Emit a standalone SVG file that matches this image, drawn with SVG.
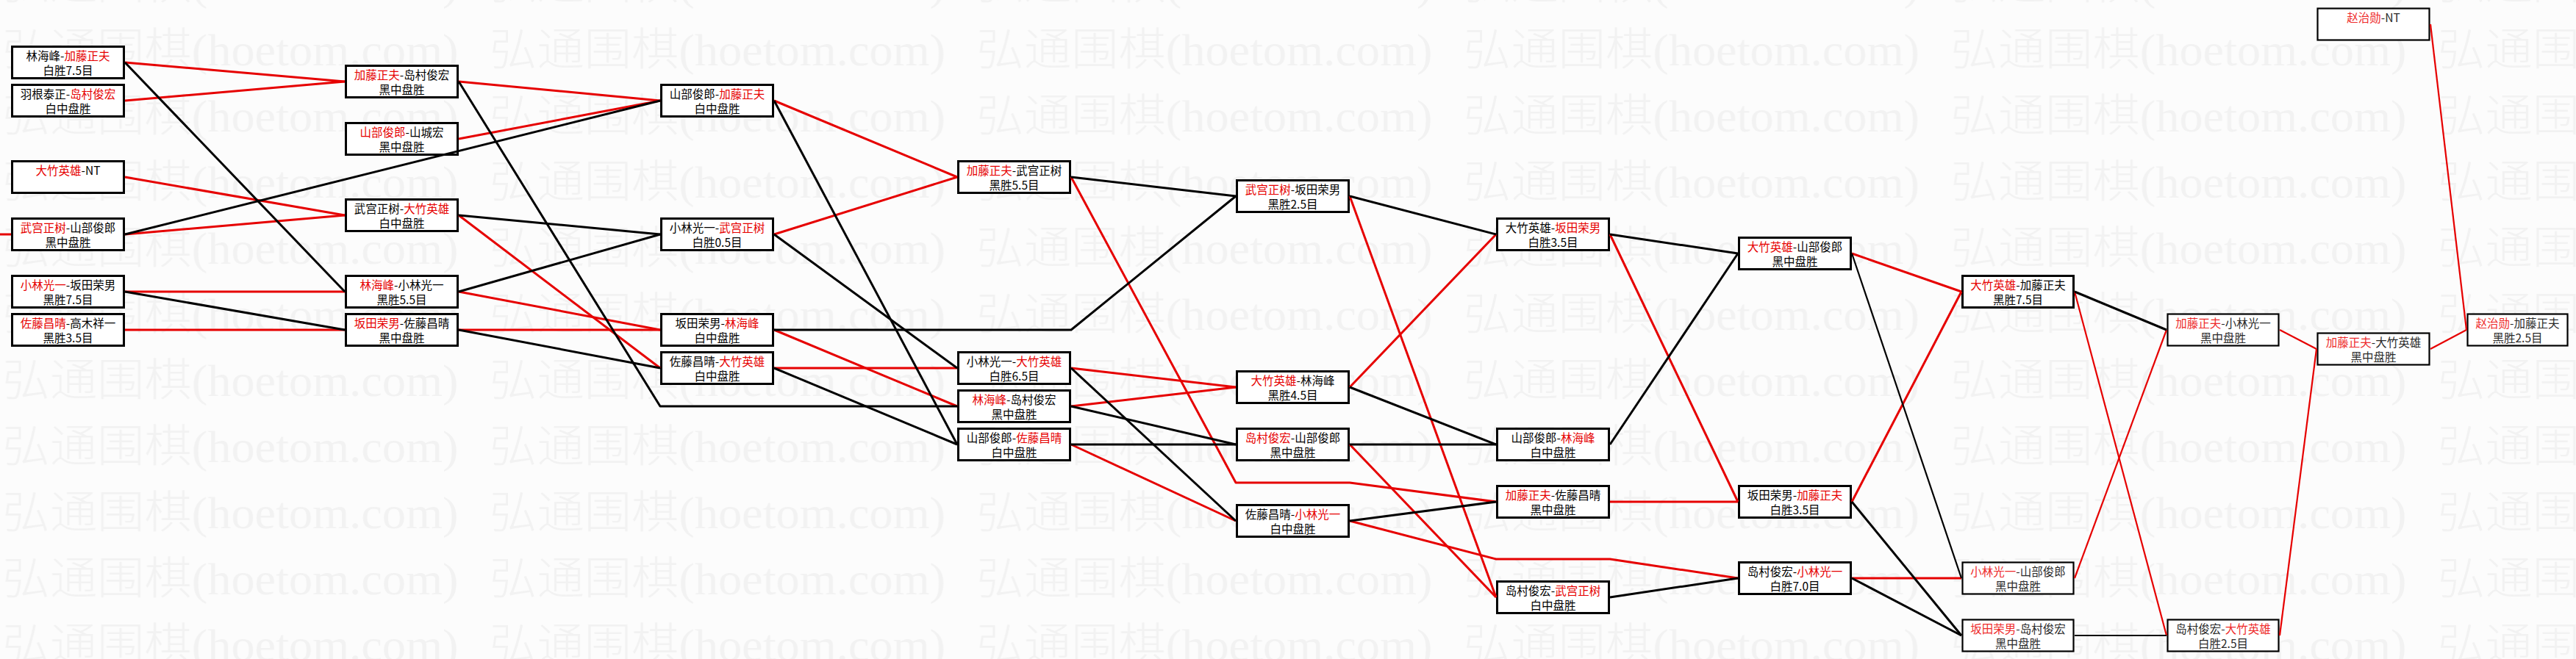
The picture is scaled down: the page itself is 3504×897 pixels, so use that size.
<svg xmlns="http://www.w3.org/2000/svg" width="3504" height="897" viewBox="0 0 3504 897">
<defs>
<style>
.bg{fill:#fcfcfc}
.wm{font-family:"Liberation Serif","Noto Sans CJK SC",serif;font-size:61px;font-weight:300;fill:#f2f2f2}
.box{fill:#fff;stroke:#000;stroke-width:3}
.light .box{stroke-width:2.2}
.t{font-family:"Noto Sans CJK SC","Noto Sans CJK JP",sans-serif;font-size:15.5px;fill:#000;text-anchor:middle}
.r{fill:#e60000}
.light .t{fill:#2a2a2a}
.light .r{fill:#ee2a2a}
.cr{fill:none;stroke:#e60000;stroke-width:3;stroke-linejoin:round}
.cb{fill:none;stroke:#000;stroke-width:3;stroke-linejoin:round}
.w2{stroke-width:2.2}
</style>
<pattern id="wmp" patternUnits="userSpaceOnUse" x="3.5" y="30" width="662.5" height="90">
<text class="wm" x="0" y="59" textLength="620" lengthAdjust="spacingAndGlyphs">弘通围棋(hoetom.com)</text>
</pattern>
</defs>
<rect class="bg" width="3504" height="897"/>
<rect id="watermark" width="3504" height="897" fill="url(#wmp)"/>

<g id="nodes">
<g id="n1_1"><rect class="box" x="16.5" y="63.5" width="152" height="43"/><text class="t" x="92.5" y="82">林海峰-<tspan class="r">加藤正夫</tspan></text><text class="t" x="92.5" y="102">白胜7.5目</text></g>
<g id="n1_2"><rect class="box" x="16.5" y="115.5" width="152" height="43"/><text class="t" x="92.5" y="134">羽根泰正-<tspan class="r">岛村俊宏</tspan></text><text class="t" x="92.5" y="154">白中盘胜</text></g>
<g id="n1_3"><rect class="box" x="16.5" y="219.5" width="152" height="43"/><text class="t" x="92.5" y="238"><tspan class="r">大竹英雄</tspan>-NT</text></g>
<g id="n1_4"><rect class="box" x="16.5" y="297.5" width="152" height="43"/><text class="t" x="92.5" y="316"><tspan class="r">武宫正树</tspan>-山部俊郎</text><text class="t" x="92.5" y="336">黑中盘胜</text></g>
<g id="n1_5"><rect class="box" x="16.5" y="375.5" width="152" height="43"/><text class="t" x="92.5" y="394"><tspan class="r">小林光一</tspan>-坂田荣男</text><text class="t" x="92.5" y="414">黑胜7.5目</text></g>
<g id="n1_6"><rect class="box" x="16.5" y="427.5" width="152" height="43"/><text class="t" x="92.5" y="446"><tspan class="r">佐藤昌晴</tspan>-高木祥一</text><text class="t" x="92.5" y="466">黑胜3.5目</text></g>

<g id="n2_1"><rect class="box" x="470.5" y="89.5" width="152" height="43"/><text class="t" x="546.5" y="108"><tspan class="r">加藤正夫</tspan>-岛村俊宏</text><text class="t" x="546.5" y="128">黑中盘胜</text></g>
<g id="n2_2"><rect class="box" x="470.5" y="167.5" width="152" height="43"/><text class="t" x="546.5" y="186"><tspan class="r">山部俊郎</tspan>-山城宏</text><text class="t" x="546.5" y="206">黑中盘胜</text></g>
<g id="n2_3"><rect class="box" x="470.5" y="271.5" width="152" height="43"/><text class="t" x="546.5" y="290">武宫正树-<tspan class="r">大竹英雄</tspan></text><text class="t" x="546.5" y="310">白中盘胜</text></g>
<g id="n2_4"><rect class="box" x="470.5" y="375.5" width="152" height="43"/><text class="t" x="546.5" y="394"><tspan class="r">林海峰</tspan>-小林光一</text><text class="t" x="546.5" y="414">黑胜5.5目</text></g>
<g id="n2_5"><rect class="box" x="470.5" y="427.5" width="152" height="43"/><text class="t" x="546.5" y="446"><tspan class="r">坂田荣男</tspan>-佐藤昌晴</text><text class="t" x="546.5" y="466">黑中盘胜</text></g>

<g id="n3_1"><rect class="box" x="899.5" y="115.5" width="152" height="43"/><text class="t" x="975.5" y="134">山部俊郎-<tspan class="r">加藤正夫</tspan></text><text class="t" x="975.5" y="154">白中盘胜</text></g>
<g id="n3_2"><rect class="box" x="899.5" y="297.5" width="152" height="43"/><text class="t" x="975.5" y="316">小林光一-<tspan class="r">武宫正树</tspan></text><text class="t" x="975.5" y="336">白胜0.5目</text></g>
<g id="n3_3"><rect class="box" x="899.5" y="427.5" width="152" height="43"/><text class="t" x="975.5" y="446">坂田荣男-<tspan class="r">林海峰</tspan></text><text class="t" x="975.5" y="466">白中盘胜</text></g>
<g id="n3_4"><rect class="box" x="899.5" y="479.5" width="152" height="43"/><text class="t" x="975.5" y="498">佐藤昌晴-<tspan class="r">大竹英雄</tspan></text><text class="t" x="975.5" y="518">白中盘胜</text></g>

<g id="n4_1"><rect class="box" x="1303.5" y="219.5" width="152" height="43"/><text class="t" x="1379.5" y="238"><tspan class="r">加藤正夫</tspan>-武宫正树</text><text class="t" x="1379.5" y="258">黑胜5.5目</text></g>
<g id="n4_2"><rect class="box" x="1303.5" y="479.5" width="152" height="43"/><text class="t" x="1379.5" y="498">小林光一-<tspan class="r">大竹英雄</tspan></text><text class="t" x="1379.5" y="518">白胜6.5目</text></g>
<g id="n4_3"><rect class="box" x="1303.5" y="531.5" width="152" height="43"/><text class="t" x="1379.5" y="550"><tspan class="r">林海峰</tspan>-岛村俊宏</text><text class="t" x="1379.5" y="570">黑中盘胜</text></g>
<g id="n4_4"><rect class="box" x="1303.5" y="583.5" width="152" height="43"/><text class="t" x="1379.5" y="602">山部俊郎-<tspan class="r">佐藤昌晴</tspan></text><text class="t" x="1379.5" y="622">白中盘胜</text></g>

<g id="n5_1"><rect class="box" x="1682.5" y="245.5" width="152" height="43"/><text class="t" x="1758.5" y="264"><tspan class="r">武宫正树</tspan>-坂田荣男</text><text class="t" x="1758.5" y="284">黑胜2.5目</text></g>
<g id="n5_2"><rect class="box" x="1682.5" y="505.5" width="152" height="43"/><text class="t" x="1758.5" y="524"><tspan class="r">大竹英雄</tspan>-林海峰</text><text class="t" x="1758.5" y="544">黑胜4.5目</text></g>
<g id="n5_3"><rect class="box" x="1682.5" y="583.5" width="152" height="43"/><text class="t" x="1758.5" y="602"><tspan class="r">岛村俊宏</tspan>-山部俊郎</text><text class="t" x="1758.5" y="622">黑中盘胜</text></g>
<g id="n5_4"><rect class="box" x="1682.5" y="687.5" width="152" height="43"/><text class="t" x="1758.5" y="706">佐藤昌晴-<tspan class="r">小林光一</tspan></text><text class="t" x="1758.5" y="726">白中盘胜</text></g>

<g id="n6_1"><rect class="box" x="2036.5" y="297.5" width="152" height="43"/><text class="t" x="2112.5" y="316">大竹英雄-<tspan class="r">坂田荣男</tspan></text><text class="t" x="2112.5" y="336">白胜3.5目</text></g>
<g id="n6_2"><rect class="box" x="2036.5" y="583.5" width="152" height="43"/><text class="t" x="2112.5" y="602">山部俊郎-<tspan class="r">林海峰</tspan></text><text class="t" x="2112.5" y="622">白中盘胜</text></g>
<g id="n6_3"><rect class="box" x="2036.5" y="661.5" width="152" height="43"/><text class="t" x="2112.5" y="680"><tspan class="r">加藤正夫</tspan>-佐藤昌晴</text><text class="t" x="2112.5" y="700">黑中盘胜</text></g>
<g id="n6_4"><rect class="box" x="2036.5" y="791.5" width="152" height="43"/><text class="t" x="2112.5" y="810">岛村俊宏-<tspan class="r">武宫正树</tspan></text><text class="t" x="2112.5" y="830">白中盘胜</text></g>

<g id="n7_1"><rect class="box" x="2365.5" y="323.5" width="152" height="43"/><text class="t" x="2441.5" y="342"><tspan class="r">大竹英雄</tspan>-山部俊郎</text><text class="t" x="2441.5" y="362">黑中盘胜</text></g>
<g id="n7_2"><rect class="box" x="2365.5" y="661.5" width="152" height="43"/><text class="t" x="2441.5" y="680">坂田荣男-<tspan class="r">加藤正夫</tspan></text><text class="t" x="2441.5" y="700">白胜3.5目</text></g>
<g id="n7_3"><rect class="box" x="2365.5" y="765.5" width="152" height="43"/><text class="t" x="2441.5" y="784">岛村俊宏-<tspan class="r">小林光一</tspan></text><text class="t" x="2441.5" y="804">白胜7.0目</text></g>

<g id="n8_1"><rect class="box" x="2669.5" y="375.5" width="151" height="43"/><text class="t" x="2745" y="394"><tspan class="r">大竹英雄</tspan>-加藤正夫</text><text class="t" x="2745" y="414">黑胜7.5目</text></g>
<g id="n8_2" class="light"><rect class="box" x="2669.5" y="765.5" width="151" height="43"/><text class="t" x="2745" y="784"><tspan class="r">小林光一</tspan>-山部俊郎</text><text class="t" x="2745" y="804">黑中盘胜</text></g>
<g id="n8_3" class="light"><rect class="box" x="2669.5" y="843.5" width="151" height="43"/><text class="t" x="2745" y="862"><tspan class="r">坂田荣男</tspan>-岛村俊宏</text><text class="t" x="2745" y="882">黑中盘胜</text></g>

<g id="n9_1" class="light"><rect class="box" x="2948.5" y="427.5" width="151" height="43"/><text class="t" x="3024" y="446"><tspan class="r">加藤正夫</tspan>-小林光一</text><text class="t" x="3024" y="466">黑中盘胜</text></g>
<g id="n9_2" class="light"><rect class="box" x="2948.5" y="843.5" width="151" height="43"/><text class="t" x="3024" y="862">岛村俊宏-<tspan class="r">大竹英雄</tspan></text><text class="t" x="3024" y="882">白胜2.5目</text></g>

<g id="n10_1" class="light"><rect class="box" x="3152.5" y="11.5" width="152" height="43"/><text class="t" x="3228.5" y="30"><tspan class="r">赵治勋</tspan>-NT</text></g>
<g id="n10_2" class="light"><rect class="box" x="3152.5" y="453.5" width="152" height="43"/><text class="t" x="3228.5" y="472"><tspan class="r">加藤正夫</tspan>-大竹英雄</text><text class="t" x="3228.5" y="492">黑中盘胜</text></g>

<g id="n11_1" class="light"><rect class="box" x="3356.5" y="427.5" width="136" height="43"/><text class="t" x="3424.5" y="446"><tspan class="r">赵治勋</tspan>-加藤正夫</text><text class="t" x="3424.5" y="466">黑胜2.5目</text></g>
</g>

<g id="connectors">
<g id="red-links">
<line class="cr" x1="170" y1="85" x2="469" y2="111"/>
<line class="cr" x1="170" y1="137" x2="469" y2="111"/>
<line class="cr" x1="170" y1="241" x2="469" y2="293"/>
<line class="cr" x1="170" y1="319" x2="469" y2="293"/>
<line class="cr" x1="170" y1="397" x2="469" y2="397"/>
<line class="cr" x1="170" y1="449" x2="469" y2="449"/>
<line class="cr" x1="0" y1="319" x2="15" y2="319"/>
<line class="cr" x1="624" y1="111" x2="898" y2="137"/>
<line class="cr" x1="624" y1="189" x2="898" y2="137"/>
<line class="cr" x1="624" y1="293" x2="898" y2="501"/>
<line class="cr" x1="624" y1="397" x2="898" y2="449"/>
<line class="cr" x1="624" y1="449" x2="898" y2="449"/>
<line class="cr" x1="1053" y1="137" x2="1302" y2="241"/>
<line class="cr" x1="1053" y1="319" x2="1302" y2="241"/>
<line class="cr" x1="1053" y1="449" x2="1302" y2="553"/>
<line class="cr" x1="1053" y1="501" x2="1302" y2="501"/>
<polyline class="cr" points="1457,241 1681,657 1836,657 2035,683"/>
<line class="cr" x1="1457" y1="501" x2="1681" y2="527"/>
<line class="cr" x1="1457" y1="553" x2="1681" y2="527"/>
<line class="cr" x1="1457" y1="605" x2="1681" y2="709"/>
<line class="cr" x1="1836" y1="267" x2="2035" y2="813"/>
<line class="cr" x1="1836" y1="527" x2="2035" y2="319"/>
<line class="cr" x1="1836" y1="605" x2="2035" y2="813"/>
<polyline class="cr" points="1836,709 2035,761 2190,761 2364,787"/>
<line class="cr" x1="2190" y1="319" x2="2364" y2="683"/>
<line class="cr" x1="2190" y1="683" x2="2364" y2="683"/>
<line class="cr" x1="2519" y1="345" x2="2668" y2="397"/>
<line class="cr" x1="2519" y1="683" x2="2668" y2="397"/>
<line class="cr" x1="2519" y1="787" x2="2668" y2="787"/>
<line class="cr w2" x1="2822" y1="397" x2="2947" y2="865"/>
<line class="cr w2" x1="2822" y1="787" x2="2947" y2="449"/>
<line class="cr w2" x1="3101" y1="449" x2="3151" y2="475"/>
<line class="cr w2" x1="3101" y1="865" x2="3151" y2="475"/>
<line class="cr w2" x1="3306" y1="33" x2="3355" y2="449"/>
<line class="cr w2" x1="3306" y1="475" x2="3355" y2="449"/>
</g>
<g id="black-links">
<line class="cb" x1="170" y1="85" x2="469" y2="397"/>
<line class="cb" x1="170" y1="319" x2="898" y2="137"/>
<line class="cb" x1="170" y1="397" x2="469" y2="449"/>
<polyline class="cb" points="624,111 898,553 1302,553"/>
<line class="cb" x1="624" y1="293" x2="898" y2="319"/>
<line class="cb" x1="624" y1="397" x2="898" y2="319"/>
<line class="cb" x1="624" y1="449" x2="898" y2="501"/>
<line class="cb" x1="1053" y1="137" x2="1302" y2="605"/>
<line class="cb" x1="1053" y1="319" x2="1302" y2="501"/>
<polyline class="cb" points="1053,449 1457,449 1681,267"/>
<line class="cb" x1="1053" y1="501" x2="1302" y2="605"/>
<line class="cb" x1="1457" y1="241" x2="1681" y2="267"/>
<line class="cb" x1="1457" y1="501" x2="1681" y2="709"/>
<line class="cb" x1="1457" y1="553" x2="1681" y2="605"/>
<line class="cb" x1="1457" y1="605" x2="1681" y2="605"/>
<line class="cb" x1="1836" y1="267" x2="2035" y2="319"/>
<line class="cb" x1="1836" y1="527" x2="2035" y2="605"/>
<line class="cb" x1="1836" y1="605" x2="2035" y2="605"/>
<line class="cb" x1="1836" y1="709" x2="2035" y2="683"/>
<line class="cb" x1="2190" y1="319" x2="2364" y2="345"/>
<line class="cb" x1="2190" y1="605" x2="2364" y2="345"/>
<line class="cb" x1="2190" y1="813" x2="2364" y2="787"/>
<line class="cb w2" x1="2519" y1="345" x2="2668" y2="787"/>
<line class="cb" x1="2519" y1="683" x2="2668" y2="865"/>
<line class="cb" x1="2519" y1="787" x2="2668" y2="865"/>
<line class="cb" x1="2822" y1="397" x2="2947" y2="449"/>
<line class="cb w2" x1="2822" y1="865" x2="2947" y2="865"/>
</g>
</g>
</svg>
